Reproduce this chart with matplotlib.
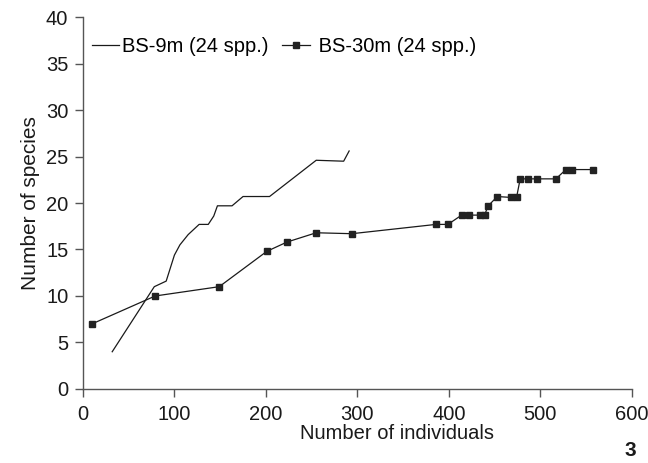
import matplotlib
matplotlib.use("Agg")
import matplotlib.pyplot as plt

plt.rcParams["font.family"] = ["Liberation Sans", "DejaVu Sans"]

# BS-9m rarefaction curve (no markers)
bs9_x = [32, 78, 91, 100, 106, 115, 127, 137, 143, 147, 163, 175, 204, 255, 285, 291]
bs9_y = [4.0, 11.0, 11.6, 14.4, 15.5, 16.6, 17.7, 17.7, 18.6, 19.7, 19.7, 20.7, 20.7, 24.6, 24.5, 25.6]

# BS-30m curve (square markers)
bs30_x = [10, 79, 149, 201, 223, 255, 294, 386, 399, 414, 422, 434, 439, 443, 453,
          468, 474, 478, 486, 496, 517, 528, 535, 558]
bs30_y = [7.0, 10.0, 11.0, 14.8, 15.8, 16.8, 16.7, 17.7, 17.7, 18.7, 18.7, 18.7, 18.7,
          19.7, 20.7, 20.6, 20.6, 22.6, 22.6, 22.6, 22.6, 23.6, 23.6, 23.6]

x_ticks = [0, 100, 200, 300, 400, 500, 600]
y_ticks = [0, 5, 10, 15, 20, 25, 30, 35, 40]

fig = plt.figure(figsize=(6.48, 4.63), dpi=100)
ax = fig.add_axes([0.128, 0.160, 0.847, 0.803])

ax.plot(bs9_x, bs9_y, color="#1a1a1a", lw=0.9, label="BS-9m (24 spp.)")
ax.plot(bs30_x, bs30_y, color="#1a1a1a", lw=0.9, marker="s", markersize=5,
        markerfacecolor="#222222", markeredgecolor="#222222",
        label=" BS-30m (24 spp.)")

ax.set_xlim(0, 600)
ax.set_ylim(0, 40)
ax.set_xticks(x_ticks)
ax.set_yticks(y_ticks)

for s in ["top", "right"]:
    ax.spines[s].set_visible(False)
for s in ["left", "bottom"]:
    ax.spines[s].set_color("#555555")
    ax.spines[s].set_linewidth(1.0)
ax.tick_params(axis="both", direction="out", length=5.5, width=1.0, pad=5,
               color="#555555", labelsize=14.5, labelcolor="#1a1a1a")
ax.tick_params(axis="x", pad=6)

ax.set_xlabel("Number of individuals", fontsize=14.5, color="#1a1a1a")
ax.set_ylabel("Number of species", fontsize=15, color="#1a1a1a")
ax.xaxis.set_label_coords(0.572, -0.094)
ax.yaxis.set_label_coords(-0.078, 0.5)

ax.legend(loc="center left", bbox_to_anchor=(8.7 / 549, 0.92), ncol=2, frameon=False,
          fontsize=14.5, handlelength=1.35, handletextpad=0.15, columnspacing=0.7,
          borderaxespad=0, borderpad=0)

fig.text(0.982, 0.006, "3", fontsize=15, fontweight="bold", ha="right",
         va="bottom", color="#1a1a1a")

fig.savefig("out.png", dpi=100)
